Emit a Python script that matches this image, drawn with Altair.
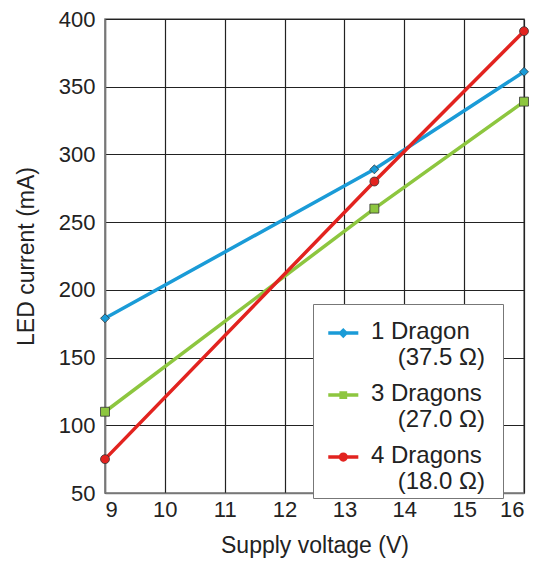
import altair as alt
import pandas as pd

voltage = [9, 13.5, 16]
indent = "\u200b" + "\u00a0" * 4
tail = "\u00a0\u00a0\u200b"
series_names = ["1 Dragon|" + indent + "(37.5 Ω)" + tail,
                "3 Dragons|" + indent + "(27.0 Ω)" + tail,
                "4 Dragons|" + indent + "(18.0 Ω)" + tail]
one_dragon = [179, 289, 361]
three_dragons = [110, 260, 339]
four_dragons = [75, 280, 391]
colors = ["#1a9bd7", "#8dc63f", "#e2231f"]
marker_shapes = ["diamond", "square", "circle"]
legend_paths = [
    "M-0.11,1.95L4.37,1.95M2.13,1.55L2.53,1.95L2.13,2.35L1.73,1.95Z",
    "M-0.11,1.95L4.37,1.95M1.81,1.63L2.45,1.63L2.45,2.27L1.81,2.27Z",
    "M-0.11,1.95L4.37,1.95M2.55,1.95A0.42,0.42,0,1,1,1.71,1.95A0.42,0.42,0,1,1,2.55,1.95Z",
]

rows = []
for name, vals in zip(series_names, [one_dragon, three_dragons, four_dragons]):
    for v, c in zip(voltage, vals):
        rows.append({"V": v, "I": c, "series": name})
df = pd.DataFrame(rows)

font = "Liberation Sans"
xenc = alt.X("V:Q", scale=alt.Scale(domain=[9, 16], nice=False),
             axis=alt.Axis(title="Supply voltage (V)", values=list(range(9, 17))))
yenc = alt.Y("I:Q", scale=alt.Scale(domain=[50, 400], nice=False),
             axis=alt.Axis(title="LED current (mA)", values=list(range(50, 401, 50))))

lines = alt.Chart(df).mark_line(strokeWidth=3.5).encode(
    x=xenc, y=yenc,
    stroke=alt.Stroke("series:N", scale=alt.Scale(domain=series_names, range=colors),
                      legend=None),
)
points = alt.Chart(df).mark_point(filled=True, size=80, stroke="#333333",
                                  strokeWidth=0.8, opacity=1).encode(
    x=xenc, y=yenc,
    fill=alt.Fill("series:N", scale=alt.Scale(domain=series_names, range=colors),
                  legend=None),
    shape=alt.Shape("series:N", scale=alt.Scale(domain=series_names, range=marker_shapes),
                    legend=None),
)


def legend_def():
    return alt.Legend(
        title=None, orient="none", legendX=208, legendY=285,
        labelExpr="split(datum.label, '|')",
        labelFont=font, labelFontSize=24, labelColor="#222222",
        labelLimit=300, symbolSize=180, symbolStrokeWidth=3.5,
        rowPadding=-7, labelOffset=30, padding=4,
        fillColor="white", strokeColor="#777777",
        labelBaseline="top",
    )


legend_layer = alt.Chart(df).mark_point(
    filled=True, strokeWidth=3.5, size=0, opacity=1).encode(
    x=xenc, y=yenc,
    fill=alt.Fill("series:N", scale=alt.Scale(domain=series_names, range=colors),
                  legend=legend_def()),
    stroke=alt.Stroke("series:N", scale=alt.Scale(domain=series_names, range=colors),
                      legend=legend_def()),
    shape=alt.Shape("series:N", scale=alt.Scale(domain=series_names, range=legend_paths),
                    legend=legend_def()),
)

chart = alt.layer(lines, points, legend_layer).resolve_scale(
    shape="independent", fill="independent", stroke="independent"
).properties(
    width=419, height=474, padding={"left": 7, "top": 0, "right": 5, "bottom": 2}
).configure_axis(
    labelFont=font, titleFont=font, labelFontSize=22, titleFontSize=23,
    titleFontWeight="normal", labelColor="#222222", titleColor="#222222",
    grid=True, gridColor="#222222", gridWidth=1.2, gridOpacity=1,
    domainColor="#777777", domainWidth=1.5, ticks=False,
).configure_axisX(labelPadding=6, titlePadding=14).configure_axisY(
    labelPadding=10, titlePadding=20
).configure_view(stroke="#777777", strokeWidth=1.5)

chart.save("out.html", embed_options={"renderer": "svg", "actions": False})
